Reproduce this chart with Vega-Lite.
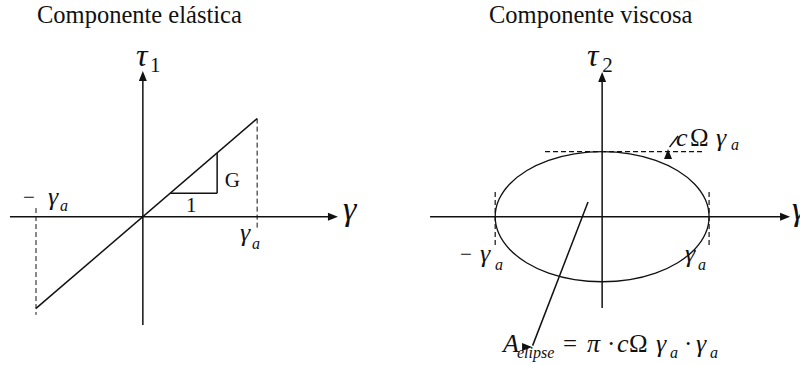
{
  "$schema": "https://vega.github.io/schema/vega-lite/v6.json",
  "padding": 0,
  "spacing": 0,
  "bounds": "flush",
  "background": "white",
  "config": {"view": {"stroke": null}, "text": {"font": "'Liberation Serif', 'DejaVu Serif', serif"}},
  "hconcat": [
    {
      "width": 400,
      "height": 365,
      "encoding": {
        "x": {"field": "x", "type": "quantitative", "scale": {"domain": [-1.25, 2.25], "nice": false, "zero": false}, "axis": null},
        "y": {"field": "y", "type": "quantitative", "scale": {"domain": [-1.3, 1.9], "nice": false, "zero": false}, "axis": null}
      },
      "layer": [
        {
          "data": {"values": [
            {"x": -1.163, "y": 0, "x2": 1.63, "y2": 0},
            {"x": 0, "y": -0.949, "x2": 0, "y2": 1.2},
            {"x": -0.935, "y": -0.804, "x2": 1, "y2": 0.86},
            {"x": 0.24, "y": 0.206, "x2": 0.65, "y2": 0.206},
            {"x": 0.65, "y": 0.206, "x2": 0.65, "y2": 0.559}
          ]},
          "mark": {"type": "rule", "color": "#111", "strokeWidth": 1.5},
          "encoding": {"x2": {"field": "x2"}, "y2": {"field": "y2"}}
        },
        {
          "data": {"values": [
            {"x": -0.935, "y": 0.076, "x2": -0.935, "y2": -0.86},
            {"x": 1, "y": 0.86, "x2": 1, "y2": -0.117}
          ]},
          "mark": {"type": "rule", "color": "#111", "strokeWidth": 1, "strokeDash": [5, 3]},
          "encoding": {"x2": {"field": "x2"}, "y2": {"field": "y2"}}
        },
        {
          "data": {"values": [
            {"x": 1.707, "y": 0, "head": "a_right"},
            {"x": 0, "y": 1.277, "head": "b_up"}
          ]},
          "mark": {"type": "point", "filled": true, "color": "#111", "opacity": 1, "size": 100, "strokeWidth": 0},
          "encoding": {
            "shape": {"field": "head", "type": "nominal", "legend": null,
              "scale": {"domain": ["a_right", "b_up"], "range": ["M0,0L-2,-0.8L-2,0.8Z", "M0,0L-0.8,2L0.8,2Z"]}}
          }
        },
        {
          "data": {"values": [{"x": -0.926, "y": 1.698, "t": "Componente elástica"}]},
          "mark": {"type": "text", "align": "left", "baseline": "alphabetic", "fontSize": 24.5, "color": "#111"},
          "encoding": {"text": {"field": "t"}}
        },
        {
          "data": {"values": [
            {"x": 0.0625, "y": 1.269, "t": "1"},
            {"x": 0.7175, "y": 0.261, "t": "G"},
            {"x": 0.377, "y": 0.041, "t": "1"},
            {"x": -1.049, "y": 0.111, "t": "−"}
          ]},
          "mark": {"type": "text", "align": "left", "baseline": "alphabetic", "fontSize": 21, "color": "#111"},
          "encoding": {"text": {"field": "t"}}
        },
        {
          "data": {"values": [{"x": -0.06, "y": 1.321, "t": "τ"}]},
          "mark": {"type": "text", "align": "left", "baseline": "alphabetic", "fontSize": 32, "fontStyle": "italic", "color": "#111"},
          "encoding": {"text": {"field": "t"}}
        },
        {
          "data": {"values": [{"x": 1.751, "y": -0.029, "t": "γ"}]},
          "mark": {"type": "text", "align": "left", "baseline": "alphabetic", "fontSize": 34, "fontStyle": "italic", "color": "#111"},
          "encoding": {"text": {"field": "t"}}
        },
        {
          "data": {"values": [
            {"x": -0.83, "y": 0.103, "t": "γ"},
            {"x": 0.85, "y": -0.213, "t": "γ"}
          ]},
          "mark": {"type": "text", "align": "left", "baseline": "alphabetic", "fontSize": 26, "fontStyle": "italic", "color": "#111"},
          "encoding": {"text": {"field": "t"}}
        },
        {
          "data": {"values": [
            {"x": -0.725, "y": 0.05, "t": "a"},
            {"x": 0.955, "y": -0.283, "t": "a"}
          ]},
          "mark": {"type": "text", "align": "left", "baseline": "alphabetic", "fontSize": 16, "fontStyle": "italic", "color": "#111"},
          "encoding": {"text": {"field": "t"}}
        }
      ]
    },
    {
      "width": 400,
      "height": 365,
      "encoding": {
        "x": {"field": "x", "type": "quantitative", "scale": {"domain": [-1.89, 1.85], "nice": false, "zero": false}, "axis": null},
        "y": {"field": "y", "type": "quantitative", "scale": {"domain": [-1.3, 1.9], "nice": false, "zero": false}, "axis": null}
      },
      "layer": [
        {
          "data": {"values": [
            {"i": 0, "x": 1, "y": 0}, {"i": 1, "x": 0.966, "y": 0.148}, {"i": 2, "x": 0.866, "y": 0.285},
            {"i": 3, "x": 0.707, "y": 0.403}, {"i": 4, "x": 0.5, "y": 0.494}, {"i": 5, "x": 0.259, "y": 0.551},
            {"i": 6, "x": 0, "y": 0.57}, {"i": 7, "x": -0.259, "y": 0.551}, {"i": 8, "x": -0.5, "y": 0.494},
            {"i": 9, "x": -0.707, "y": 0.403}, {"i": 10, "x": -0.866, "y": 0.285}, {"i": 11, "x": -0.966, "y": 0.148},
            {"i": 12, "x": -1, "y": 0}, {"i": 13, "x": -0.966, "y": -0.148}, {"i": 14, "x": -0.866, "y": -0.285},
            {"i": 15, "x": -0.707, "y": -0.403}, {"i": 16, "x": -0.5, "y": -0.494}, {"i": 17, "x": -0.259, "y": -0.551},
            {"i": 18, "x": 0, "y": -0.57}, {"i": 19, "x": 0.259, "y": -0.551}, {"i": 20, "x": 0.5, "y": -0.494},
            {"i": 21, "x": 0.707, "y": -0.403}, {"i": 22, "x": 0.866, "y": -0.285}, {"i": 23, "x": 0.966, "y": -0.148}
          ]},
          "mark": {"type": "line", "color": "#111", "strokeWidth": 1.3, "interpolate": "cardinal-closed"},
          "encoding": {"order": {"field": "i", "type": "quantitative"}}
        },
        {
          "data": {"values": [
            {"x": -1.609, "y": 0, "x2": 1.673, "y2": 0},
            {"x": 0, "y": -0.8, "x2": 0, "y2": 1.19},
            {"x": -0.132, "y": 0.129, "x2": -0.65, "y2": -1.13},
            {"x": 0.71, "y": 0.707, "x2": 0.63, "y2": 0.61}
          ]},
          "mark": {"type": "rule", "color": "#111", "strokeWidth": 1.5},
          "encoding": {"x2": {"field": "x2"}, "y2": {"field": "y2"}}
        },
        {
          "data": {"values": [
            {"x": -0.534, "y": 0.57, "x2": 0.934, "y2": 0.57},
            {"x": -1, "y": 0.217, "x2": -1, "y2": -0.274},
            {"x": 1, "y": 0.217, "x2": 1, "y2": -0.274}
          ]},
          "mark": {"type": "rule", "color": "#111", "strokeWidth": 1.2, "strokeDash": [5, 3]},
          "encoding": {"x2": {"field": "x2"}, "y2": {"field": "y2"}}
        },
        {
          "data": {"values": [
            {"x": 1.757, "y": 0, "head": "a_right"},
            {"x": 0, "y": 1.269, "head": "b_up"},
            {"x": -0.655, "y": -1.142, "head": "c_area"},
            {"x": 0.616, "y": 0.593, "head": "d_amp"}
          ]},
          "mark": {"type": "point", "filled": true, "color": "#111", "opacity": 1, "size": 100, "strokeWidth": 0},
          "encoding": {
            "shape": {"field": "head", "type": "nominal", "legend": null,
              "scale": {"domain": ["a_right", "b_up", "c_area", "d_amp"],
                "range": ["M0,0L-2,-0.8L-2,0.8Z", "M0,0L-0.8,2L0.8,2Z", "M0,0L1.466,-1.578L-0.026,-2.154Z", "M0,0L1.654,-1L0.542,-1.854Z"]}}
          }
        },
        {
          "data": {"values": [{"x": -1.058, "y": 1.698, "t": "Componente viscosa"}]},
          "mark": {"type": "text", "align": "left", "baseline": "alphabetic", "fontSize": 24.5, "color": "#111"},
          "encoding": {"text": {"field": "t"}}
        },
        {
          "data": {"values": [
            {"x": 0.0, "y": 1.269, "t": "2"},
            {"x": -1.329, "y": -0.389, "t": "−"}
          ]},
          "mark": {"type": "text", "align": "left", "baseline": "alphabetic", "fontSize": 21, "color": "#111"},
          "encoding": {"text": {"field": "t"}}
        },
        {
          "data": {"values": [
            {"x": 0.822, "y": 0.619, "t": "Ω"},
            {"x": -0.366, "y": -1.187, "t": "="},
            {"x": 0.046, "y": -1.187, "t": "·"},
            {"x": 0.251, "y": -1.187, "t": "Ω"},
            {"x": 0.766, "y": -1.187, "t": "·"}
          ]},
          "mark": {"type": "text", "align": "left", "baseline": "alphabetic", "fontSize": 25, "color": "#111"},
          "encoding": {"text": {"field": "t"}}
        },
        {
          "data": {"values": [{"x": -0.141, "y": 1.321, "t": "τ"}]},
          "mark": {"type": "text", "align": "left", "baseline": "alphabetic", "fontSize": 32, "fontStyle": "italic", "color": "#111"},
          "encoding": {"text": {"field": "t"}}
        },
        {
          "data": {"values": [{"x": 1.775, "y": -0.029, "t": "γ"}]},
          "mark": {"type": "text", "align": "left", "baseline": "alphabetic", "fontSize": 34, "fontStyle": "italic", "color": "#111"},
          "encoding": {"text": {"field": "t"}}
        },
        {
          "data": {"values": [
            {"x": -1.142, "y": -0.397, "t": "γ"},
            {"x": 0.775, "y": -0.397, "t": "γ"},
            {"x": 0.691, "y": 0.619, "t": "c"},
            {"x": 1.065, "y": 0.619, "t": "γ"},
            {"x": -0.927, "y": -1.187, "t": "A"},
            {"x": -0.141, "y": -1.187, "t": "π"},
            {"x": 0.139, "y": -1.187, "t": "c"},
            {"x": 0.504, "y": -1.187, "t": "γ"},
            {"x": 0.878, "y": -1.187, "t": "γ"}
          ]},
          "mark": {"type": "text", "align": "left", "baseline": "alphabetic", "fontSize": 26, "fontStyle": "italic", "color": "#111"},
          "encoding": {"text": {"field": "t"}}
        },
        {
          "data": {"values": [
            {"x": -1.001, "y": -0.467, "t": "a"},
            {"x": 0.897, "y": -0.467, "t": "a"},
            {"x": 1.205, "y": 0.584, "t": "a"},
            {"x": -0.796, "y": -1.24, "t": "elipse"},
            {"x": 0.635, "y": -1.24, "t": "a"},
            {"x": 1.009, "y": -1.24, "t": "a"}
          ]},
          "mark": {"type": "text", "align": "left", "baseline": "alphabetic", "fontSize": 16, "fontStyle": "italic", "color": "#111"},
          "encoding": {"text": {"field": "t"}}
        }
      ]
    }
  ]
}
